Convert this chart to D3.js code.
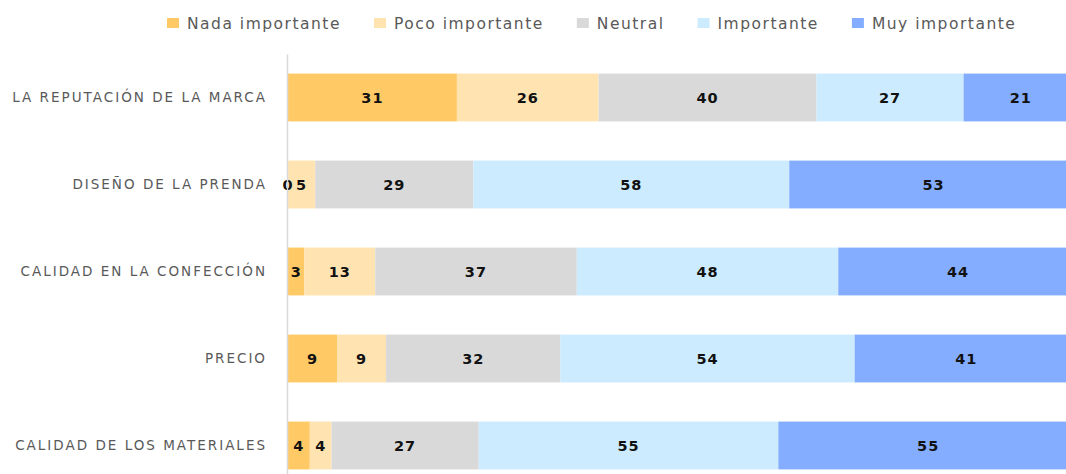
<!DOCTYPE html>
<html>
<head>
<meta charset="utf-8">
<script src="https://cdn.jsdelivr.net/npm/d3@7"></script>
<style>
  body { margin: 0; background: #fff; }
  svg { display: block; }
</style>
</head>
<body>
<div id="chart"></div>
<script>
const w = 1066;
const h = 474;

const categories = [
    'LA REPUTACIÓN DE LA MARCA',
    'DISEÑO DE LA PRENDA',
    'CALIDAD EN LA CONFECCIÓN',
    'PRECIO',
    'CALIDAD DE LOS MATERIALES'
];
const seriesNames = ['Nada importante', 'Poco importante', 'Neutral', 'Importante', 'Muy importante'];
const seriesColors = ['#FFC966', '#FFE4B2', '#D9D9D9', '#CCEBFE', '#85ADFF'];

const nada = [31, 0, 3, 9, 4];
const poco = [26, 5, 13, 9, 4];
const neutral = [40, 29, 37, 32, 27];
const importante = [27, 58, 48, 54, 55];
const muy = [21, 53, 44, 41, 55];

const seriesValues = [nada, poco, neutral, importante, muy];

const margin = { top: 54, right: -12, bottom: -15, left: 288 };

// table built from the arrays above
const table = categories.map((c, i) => {
    const row = { category: c };
    seriesNames.forEach((s, j) => row[s] = seriesValues[j][i]);
    return row;
});

const stacked = d3.stack().keys(seriesNames)(table);

const x = d3.scaleLinear()
    .domain([0, d3.max(table, d => d3.sum(seriesNames, s => d[s]))])
    .range([margin.left, w - margin.right]);

const y = d3.scaleBand()
    .domain(categories)
    .range([margin.top, h - margin.bottom])
    .paddingInner(0.45)
    .paddingOuter(0.225);

const color = d3.scaleOrdinal().domain(seriesNames).range(seriesColors);

const svg = d3.select('#chart')
    .append('svg')
    .attr('width', w)
    .attr('height', h);

// bars
const layer = svg.append('g')
    .selectAll('g')
    .data(stacked)
    .join('g')
    .attr('fill', d => color(d.key));

layer.selectAll('rect')
    .data(d => d)
    .join('rect')
    .attr('x', d => x(d[0]))
    .attr('y', d => y(d.data.category))
    .attr('width', d => x(d[1]) - x(d[0]))
    .attr('height', y.bandwidth());

// value labels, drawn after all bars so the 0 stays visible
const labels = svg.append('g')
    .selectAll('g')
    .data(stacked)
    .join('g');

labels.selectAll('text')
    .data(d => d)
    .join('text')
    .attr('x', d => (x(d[0]) + x(d[1])) / 2)
    .attr('y', d => y(d.data.category) + y.bandwidth() / 2)
    .attr('dy', '0.36em')
    .attr('text-anchor', 'middle')
    .attr('fill', '#111')
    .style('font-family', '"DejaVu Sans", Verdana, sans-serif')
    .style('font-weight', 'bold')
    .style('font-size', '14.5px')
    .style('letter-spacing', '1px')
    .text(d => d[1] - d[0]);

// y axis
const yAxis = svg.append('g')
    .attr('transform', `translate(${margin.left - 1},0)`)
    .call(d3.axisLeft(y).tickSize(0).tickPadding(20));

yAxis.select('.domain')
    .attr('stroke', '#d9d9d9')
    .attr('stroke-width', 1.5);

yAxis.selectAll('text')
    .attr('fill', '#595959')
    .style('font-family', '"DejaVu Sans", sans-serif')
    .style('font-size', '13.5px')
    .style('letter-spacing', '2px');

// legend
const legend = svg.append('g')
    .attr('transform', 'translate(167,22)');

let lx = 0;
seriesNames.forEach(name => {
    const item = legend.append('g').attr('transform', `translate(${lx},0)`);
    item.append('rect')
        .attr('x', 0)
        .attr('y', -4)
        .attr('width', 12)
        .attr('height', 10)
        .attr('fill', color(name));
    const t = item.append('text')
        .attr('x', 20)
        .attr('y', 1)
        .attr('dy', '0.36em')
        .attr('fill', '#595959')
        .style('font-family', '"DejaVu Sans", sans-serif')
        .style('font-size', '15.5px')
        .style('letter-spacing', '1.5px')
        .text(name);
    lx += 20 + t.node().getComputedTextLength() + 33;
});
</script>
</body>
</html>
